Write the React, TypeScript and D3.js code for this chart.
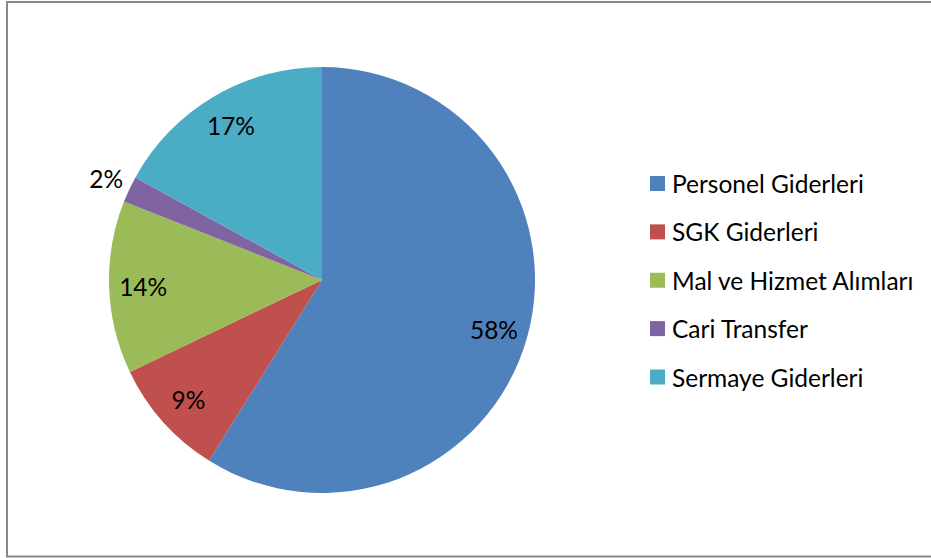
import { useEffect, useRef } from 'react';
import * as d3 from 'd3';

// expense categories, their share (%) as measured from the slice angles, and the printed labels
const categories = ['Personel Giderleri', 'SGK Giderleri', 'Mal ve Hizmet Alımları', 'Cari Transfer', 'Sermaye Giderleri'];
const shares = [58.9, 9.0, 13.1, 2.0, 17.0];
const pctLabels = ['58%', '9%', '14%', '2%', '17%'];
const colors = ['#4F81BD', '#C0504D', '#9BBB59', '#8064A2', '#4BACC6'];

const W = 931;
const H = 558;
const FONT = 'Lato, "Open Sans", "Noto Sans", sans-serif';
const FS = 24.5;

export default function App() {
  const ref = useRef<SVGSVGElement>(null);

  useEffect(() => {
    const svg = d3.select(ref.current);
    svg.selectAll('*').remove();

    // chart area frame
    svg.append('rect')
      .attr('x', 7).attr('y', 2)
      .attr('width', 930).attr('height', 554.5)
      .attr('fill', '#fff')
      .attr('stroke', '#888')
      .attr('stroke-width', 2);

    const cx = 322, cy = 280, r = 213;
    const data = categories.map((c, i) => ({ name: c, value: shares[i], label: pctLabels[i], color: colors[i] }));

    const pie = d3.pie<any>().value(d => d.value).sort(null);
    const arcs = pie(data);
    const arc = d3.arc<any>().innerRadius(0).outerRadius(r);

    const g = svg.append('g').attr('transform', `translate(${cx},${cy})`);
    g.selectAll('path')
      .data(arcs)
      .enter()
      .append('path')
      .attr('d', arc)
      .attr('fill', d => d.data.color);

    // small slices get their label outside the pie
    g.selectAll('text.pct')
      .data(arcs)
      .enter()
      .append('text')
      .attr('class', 'pct')
      .attr('transform', d => {
        const a = (d.startAngle + d.endAngle) / 2;
        const lr = d.data.value < 5 ? r * 1.12 : r * 0.84;
        return `translate(${Math.sin(a) * lr},${-Math.cos(a) * lr})`;
      })
      .attr('text-anchor', 'middle')
      .attr('dominant-baseline', 'central')
      .attr('font-family', FONT)
      .attr('font-size', FS)
      .attr('fill', '#000')
      .text(d => d.data.label);

    // legend
    const y = d3.scalePoint<string>().domain(categories).range([183.5, 377]);
    const leg = svg.append('g');
    const row = leg.selectAll('g')
      .data(data)
      .enter()
      .append('g')
      .attr('transform', d => `translate(650,${y(d.name)})`);
    row.append('rect')
      .attr('x', 0).attr('y', -7.5)
      .attr('width', 15).attr('height', 15)
      .attr('fill', d => d.color);
    row.append('text')
      .attr('x', 22)
      .attr('dominant-baseline', 'central')
      .attr('font-family', FONT)
      .attr('font-size', FS)
      .attr('fill', '#000')
      .text(d => d.name);
  }, []);

  return (
    <svg ref={ref} width={W} height={H} style={{ position: 'absolute', left: 0, top: 0, display: 'block' }} />
  );
}
